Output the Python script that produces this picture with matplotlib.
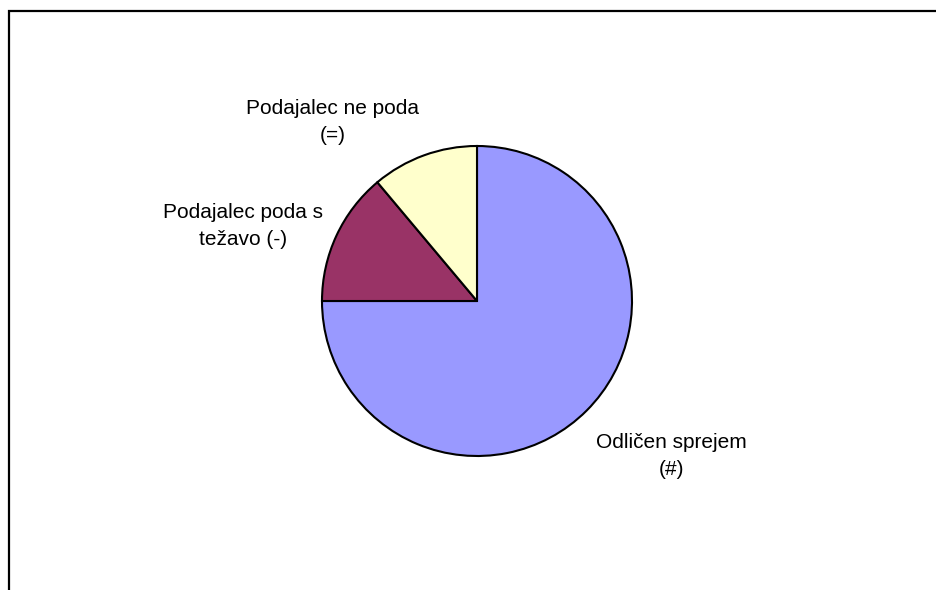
import matplotlib.pyplot as plt
from matplotlib.patches import Rectangle

plt.rcParams['font.family'] = ['Liberation Sans', 'DejaVu Sans']

# ocena sprejema servisa
labels = ['Odličen sprejem\n(#)', 'Podajalec poda s\ntežavo (-)', 'Podajalec ne poda\n(=)']
counts = [27, 5, 4]
colors = ['#9999FF', '#993366', '#FFFFCC']

W, H = 936, 590
fig = plt.figure(figsize=(W / 100, H / 100), dpi=100)
ax = fig.add_axes([0, 0, 1, 1])

ax.pie(counts, colors=colors, center=(477, H - 301), radius=155,
       startangle=90, counterclock=False, frame=True,
       wedgeprops=dict(edgecolor='black', linewidth=1.5))

# oznake ob izsekih
label_pos = [(671, 456), (243, 226), (333, 122)]
for txt, (x, y) in zip(labels, label_pos):
    ax.text(x, H - y, txt, ha='center', va='center', fontsize=15,
            linespacing=1.55, multialignment='center')

# okvir grafa (spodnji in desni rob sta izven slike)
ax.add_patch(Rectangle((9, -50), 2000, H - 11 + 50, fill=False,
                       edgecolor='black', linewidth=1.6))

ax.set_xlim(0, W)
ax.set_ylim(0, H)
ax.set_aspect('equal')
ax.axis('off')

fig.savefig('out.png', dpi=100)
